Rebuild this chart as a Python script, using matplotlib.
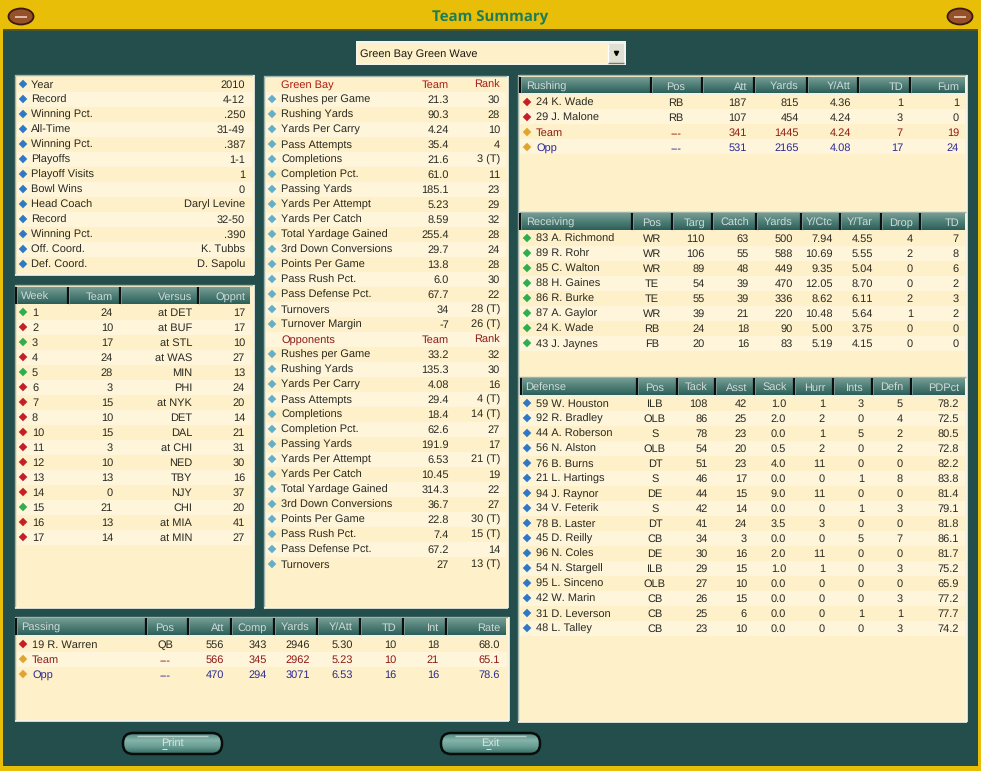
import matplotlib
matplotlib.use("Agg")
import matplotlib.pyplot as plt
import numpy as np
from matplotlib.patches import Rectangle, FancyBboxPatch, Ellipse
from matplotlib.lines import Line2D

plt.rcParams["font.family"] = ["Liberation Sans", "DejaVu Sans"]
plt.rcParams["text.hinting"] = "no_hinting"
plt.rcParams["text.hinting_factor"] = 1

YELLOW = "#E9BE08"; TEAL = "#234E4B"; CREAM = "#FEF0C9"; STRIPE = "#FEF5DA"
INK = "#2A2A22"; DARKRED = "#8E1A16"; NAVY = "#2C2A96"; HEADTXT = "#CFDBD7"
BLUE = "#2E78C6"; LBLUE = "#62AECB"; RED = "#C41E26"; GREEN = "#30AE4E"; GOLD = "#DFA52E"
FS = 7.9

# ---------- data ----------
info_labels = ["Year", "Record", "Winning Pct.", "All-Time", "Winning Pct.", "Playoffs", "Playoff Visits",
               "Bowl Wins", "Head Coach", "Record", "Winning Pct.", "Off. Coord.", "Def. Coord."]
info_values = ["2010", "4-12", ".250", "31-49", ".387", "1-1", "1", "0", "Daryl Levine", "32-50", ".390",
               "K. Tubbs", "D. Sapolu"]

week_heads = ["Week", "Team", "Versus", "Oppnt"]
weeks = ["1", "2", "3", "4", "5", "6", "7", "8", "10", "11", "12", "13", "14", "15", "16", "17"]
week_team = ["24", "10", "17", "24", "28", "3", "15", "10", "15", "3", "10", "13", "0", "21", "13", "14"]
week_vs = ["at DET", "at BUF", "at STL", "at WAS", "MIN", "PHI", "at NYK", "DET", "DAL", "at CHI", "NED", "TBY",
           "NJY", "CHI", "at MIA", "at MIN"]
week_opp = ["17", "17", "10", "27", "13", "24", "20", "14", "21", "31", "30", "16", "37", "20", "41", "27"]

own_labels = ["Rushes per Game", "Rushing Yards", "Yards Per Carry", "Pass Attempts", "Completions",
              "Completion Pct.", "Passing Yards", "Yards Per Attempt", "Yards Per Catch", "Total Yardage Gained",
              "3rd Down Conversions", "Points Per Game", "Pass Rush Pct.", "Pass Defense Pct.", "Turnovers",
              "Turnover Margin"]
own_team = ["21.3", "90.3", "4.24", "35.4", "21.6", "61.0", "185.1", "5.23", "8.59", "255.4", "29.7", "13.8", "6.0",
            "67.7", "34", "-7"]
own_rank = ["30", "28", "10", "4", "3 (T)", "11", "23", "29", "32", "28", "24", "28", "30", "22", "28 (T)", "26 (T)"]
opp_team = ["33.2", "135.3", "4.08", "29.4", "18.4", "62.6", "191.9", "6.53", "10.45", "314.3", "36.7", "22.8",
            "7.4", "67.2", "27"]
opp_rank = ["32", "30", "16", "4 (T)", "14 (T)", "27", "17", "21 (T)", "19", "22", "27", "30 (T)", "15 (T)", "14",
            "13 (T)"]

pass_heads = ["Passing", "Pos", "Att", "Comp", "Yards", "Y/Att", "TD", "Int", "Rate"]
pass_rows = [["19 R. Warren", "QB", "556", "343", "2946", "5.30", "10", "18", "68.0"],
             ["Team", "---", "566", "345", "2962", "5.23", "10", "21", "65.1"],
             ["Opp", "---", "470", "294", "3071", "6.53", "16", "16", "78.6"]]

rush_heads = ["Rushing", "Pos", "Att", "Yards", "Y/Att", "TD", "Fum"]
rush_rows = [["24 K. Wade", "RB", "187", "815", "4.36", "1", "1"],
             ["29 J. Malone", "RB", "107", "454", "4.24", "3", "0"],
             ["Team", "---", "341", "1445", "4.24", "7", "19"],
             ["Opp", "---", "531", "2165", "4.08", "17", "24"]]

rec_heads = ["Receiving", "Pos", "Targ", "Catch", "Yards", "Y/Ctc", "Y/Tar", "Drop", "TD"]
rec_rows = [["83 A. Richmond", "WR", "110", "63", "500", "7.94", "4.55", "4", "7"],
            ["89 R. Rohr", "WR", "106", "55", "588", "10.69", "5.55", "2", "8"],
            ["85 C. Walton", "WR", "89", "48", "449", "9.35", "5.04", "0", "6"],
            ["88 H. Gaines", "TE", "54", "39", "470", "12.05", "8.70", "0", "2"],
            ["86 R. Burke", "TE", "55", "39", "336", "8.62", "6.11", "2", "3"],
            ["87 A. Gaylor", "WR", "39", "21", "220", "10.48", "5.64", "1", "2"],
            ["24 K. Wade", "RB", "24", "18", "90", "5.00", "3.75", "0", "0"],
            ["43 J. Jaynes", "FB", "20", "16", "83", "5.19", "4.15", "0", "0"]]

def_heads = ["Defense", "Pos", "Tack", "Asst", "Sack", "Hurr", "Ints", "Defn", "PDPct"]
def_rows = [["59 W. Houston", "ILB", "108", "42", "1.0", "1", "3", "5", "78.2"],
            ["92 R. Bradley", "OLB", "86", "25", "2.0", "2", "0", "4", "72.5"],
            ["44 A. Roberson", "S", "78", "23", "0.0", "1", "5", "2", "80.5"],
            ["56 N. Alston", "OLB", "54", "20", "0.5", "2", "0", "2", "72.8"],
            ["76 B. Burns", "DT", "51", "23", "4.0", "11", "0", "0", "82.2"],
            ["21 L. Hartings", "S", "46", "17", "0.0", "0", "1", "8", "83.8"],
            ["94 J. Raynor", "DE", "44", "15", "9.0", "11", "0", "0", "81.4"],
            ["34 V. Feterik", "S", "42", "14", "0.0", "0", "1", "3", "79.1"],
            ["78 B. Laster", "DT", "41", "24", "3.5", "3", "0", "0", "81.8"],
            ["45 D. Reilly", "CB", "34", "3", "0.0", "0", "5", "7", "86.1"],
            ["96 N. Coles", "DE", "30", "16", "2.0", "11", "0", "0", "81.7"],
            ["54 N. Stargell", "ILB", "29", "15", "1.0", "1", "0", "3", "75.2"],
            ["95 L. Sinceno", "OLB", "27", "10", "0.0", "0", "0", "0", "65.9"],
            ["42 W. Marin", "CB", "26", "15", "0.0", "0", "0", "3", "77.2"],
            ["31 D. Leverson", "CB", "25", "6", "0.0", "0", "1", "1", "77.7"],
            ["48 L. Talley", "CB", "23", "10", "0.0", "0", "0", "3", "74.2"]]

# ---------- canvas in screen pixels ----------
fig = plt.figure(figsize=(9.81, 7.71), dpi=100, facecolor=YELLOW)
ax = fig.add_axes([0, 0, 1, 1])
ax.set_xlim(0, 981); ax.set_ylim(771, 0); ax.axis("off")

def box(x0, y0, x1, y1, fc, z=1):
    ax.add_patch(Rectangle((x0, y0), x1 - x0, y1 - y0, fc=fc, ec="none", zorder=z))

def seg(x0, y0, x1, y1, c, lw=1.0, z=3):
    ax.add_line(Line2D([x0, x1], [y0, y1], color=c, lw=lw, zorder=z, solid_capstyle="butt"))

def txt(x, y, s, ha="left", c=INK, fs=FS, **kw):
    # same baseline for every row, whatever the letters
    ax.text(x, y + 4.2, s, ha=ha, va="baseline", color=c, fontsize=fs, zorder=6, **kw)

def bullet(x, y, c):
    ax.plot([x], [y], marker="D", ms=3.6, mfc=c, mec=c, mew=0.3, zorder=5, ls="none")

def panel(x0, y0, x1, y1):
    box(x0, y0, x1, y1, CREAM)
    seg(x0, y0, x1, y0, "#9DB3AD", 1.0); seg(x0, y0, x0, y1, "#9DB3AD", 1.0)
    seg(x1, y0, x1, y1, "#F4F6EE", 1.2); seg(x0, y1, x1, y1, "#F4F6EE", 1.2)

def stripes(x0, x1, ytop, n):
    for i in range(n):
        if i % 2 == 1:
            box(x0, ytop + i * 15, x1, ytop + (i + 1) * 15, STRIPE, 2)

grad = np.linspace(0, 1, 32).reshape(-1, 1)
head_cmap = matplotlib.colors.LinearSegmentedColormap.from_list("h", ["#769C93", "#4F7F77", "#2D5F5A"])

def header(y0, y1, seps, xend, heads, xs, aligns):
    ax.imshow(grad, extent=(seps[0], xend, y1, y0), cmap=head_cmap, aspect="auto", zorder=3)
    for sx in seps:
        seg(sx, y0, sx, y1, "#0C0F0E", 1.6, 4)
        seg(sx + 1.4, y0, sx + 1.4, y1, "#8BA8A0", 0.5, 4)
    seg(seps[0], y1 + 0.5, xend, y1 + 0.5, "#F2F0DE", 0.8, 4)
    for s, x, a in zip(heads, xs, aligns):
        txt(x, (y0 + y1) / 2 + 0.5, s, ha=a, c=HEADTXT)

def rows(rowlist, y0, xs, aligns, bx, dot):
    for i, row in enumerate(rowlist):
        y = y0 + i * 15
        c = DARKRED if row[0] == "Team" else NAVY if row[0] == "Opp" else INK
        bullet(bx, y, GOLD if row[0] in ("Team", "Opp") else dot)
        for s, x, a in zip(row, xs, aligns):
            txt(x, y, s, ha=a, c=c)

# ---------- frame ----------
box(3, 29, 978, 766, TEAL, 0)
seg(3, 29.5, 978, 29.5, "#5A5A20", 1.2, 1)
ax.text(490, 21, "Team Summary", ha="center", va="baseline", color="#1F7D55", fontsize=11,
        family="Open Sans", fontweight="bold", zorder=6)
for fx in (21, 960):
    ax.add_patch(Ellipse((fx, 16.5), 25, 16, fc="#96502A", ec="#3A1A0C", lw=1.3, zorder=3))
    seg(fx - 6, 16.5, fx + 6, 16.5, "#E8D0BC", 1.2, 4)

# ---------- dropdown ----------
box(356, 41, 626, 65, "#F4F4EE", 1)
box(358, 43, 624, 63, CREAM, 2)
box(608, 44, 624, 63, "#E0DFD4", 3)
seg(608, 44, 608, 63, "#FFFFFF", 1, 4); seg(608, 63, 624, 63, "#77776C", 1, 4)
ax.plot([616], [53], marker="v", ms=3, color="black", zorder=5)
txt(360, 53, "Green Bay Green Wave", c="#1A1A14")

# ---------- info panel ----------
panel(15, 75, 254, 275)
stripes(17, 252, 77, 13)
for i, (lab, val) in enumerate(zip(info_labels, info_values)):
    bullet(23, 84 + i * 15, BLUE)
    txt(31, 84 + i * 15, lab)
    txt(245, 84 + i * 15, val, ha="right")

# ---------- week panel ----------
panel(15, 285, 254, 608)
stripes(17, 252, 305, 16)
header(287, 304, [16, 68, 120, 198], 250, week_heads, [21, 113, 192, 245], ["left", "right", "right", "right"])
week_rows = list(zip(weeks, week_team, week_vs, week_opp))
for i, (wk, tm, vs, op) in enumerate(week_rows):
    y = 312 + i * 15
    bullet(23, y, GREEN if int(tm) > int(op) else RED)
    txt(32, y, wk); txt(113, y, tm, ha="right"); txt(192, y, vs, ha="right"); txt(245, y, op, ha="right")

# ---------- centre panel ----------
panel(264, 76, 508, 608)
stripes(266, 506, 77, 32)
txt(281, 84, "Green Bay", c="#A81C18"); txt(449, 84, "Team", ha="right", c="#A81C18"); txt(500, 84, "Rank", ha="right", c="#A81C18")
for i, (lab, tm, rk) in enumerate(zip(own_labels, own_team, own_rank)):
    y = 99 + i * 15
    bullet(272, y, LBLUE)
    txt(281, y, lab); txt(449, y, tm, ha="right"); txt(500, y, rk, ha="right")
txt(281, 339, "Opponents", c=DARKRED); txt(449, 339, "Team", ha="right", c=DARKRED); txt(500, 339, "Rank", ha="right", c=DARKRED)
for i, (lab, tm, rk) in enumerate(zip(own_labels, opp_team, opp_rank)):
    y = 354 + i * 15
    bullet(272, y, LBLUE)
    txt(281, y, lab); txt(449, y, tm, ha="right"); txt(500, y, rk, ha="right")

# ---------- passing ----------
panel(15, 617, 509, 721)
stripes(17, 507, 637, 3)
p_al = ["left", "center"] + ["right"] * 7
header(618, 635, [16, 146, 188, 231, 274, 317, 360, 403, 446], 506, pass_heads,
       [21, 165, 224, 267, 310, 353, 396, 439, 500], p_al)
rows(pass_rows, 644, [32, 165, 224, 267, 310, 353, 396, 439, 500], p_al, 23, RED)

# ---------- right column ----------
panel(518, 75, 967, 722)
seg(519, 211.5, 966, 211.5, "#9DB3AD", 1.0); seg(519, 376.5, 966, 376.5, "#9DB3AD", 1.0)
r_al = ["left", "center"] + ["right"] * 5
header(77, 93, [520, 651, 702, 754, 807, 858, 910], 965, rush_heads, [526, 676, 747, 799, 851, 903, 959], r_al)
stripes(520, 965, 94, 4)
rows(rush_rows, 102, [536, 676, 747, 799, 851, 903, 959], r_al, 527, RED)

header(213, 230, [520, 632, 672, 712, 756, 801, 840, 881, 920], 965, rec_heads,
       [526, 652, 705, 749, 793, 833, 873, 913, 959], p_al)
stripes(520, 965, 231, 8)
rows(rec_rows, 238, [536, 652, 705, 749, 793, 833, 873, 913, 959], p_al, 527, GREEN)

header(378, 395, [521, 637, 677, 715, 754, 794, 833, 872, 911], 965, def_heads,
       [525, 655, 708, 747, 787, 825, 864, 903, 959], p_al)
stripes(520, 965, 396, 16)
rows(def_rows, 403, [536, 655, 708, 747, 786, 825, 864, 903, 959], p_al, 527, BLUE)

# ---------- buttons ----------
btn_cmap = matplotlib.colors.LinearSegmentedColormap.from_list("b", ["#4F867E", "#86B4AA", "#679C92", "#356B64"])
for bx0, bx1, label, ulx in [(121, 224, "Print", (162, 167)), (439, 542, "Exit", (486, 491))]:
    shape = FancyBboxPatch((bx0 + 2, 733), bx1 - bx0 - 4, 21, boxstyle="round,pad=0,rounding_size=10",
                           fc="none", ec="#080C0B", lw=1.8, zorder=4)
    ax.add_patch(shape)
    im = ax.imshow(grad, extent=(bx0 + 2, bx1 - 2, 754, 733), cmap=btn_cmap, aspect="auto", zorder=3)
    im.set_clip_path(shape)
    seg(bx0 + 16, 736, bx1 - 16, 736, "#B4D2C9", 1.0, 5)
    txt((bx0 + bx1) / 2, 743, label, ha="center", c="#DCE6E2")
    seg(ulx[0], 748.5, ulx[1], 748.5, "#DCE6E2", 0.7, 6)

ax.set_xlim(0, 981); ax.set_ylim(771, 0)
fig.savefig("out.png", dpi=100, facecolor=YELLOW)
